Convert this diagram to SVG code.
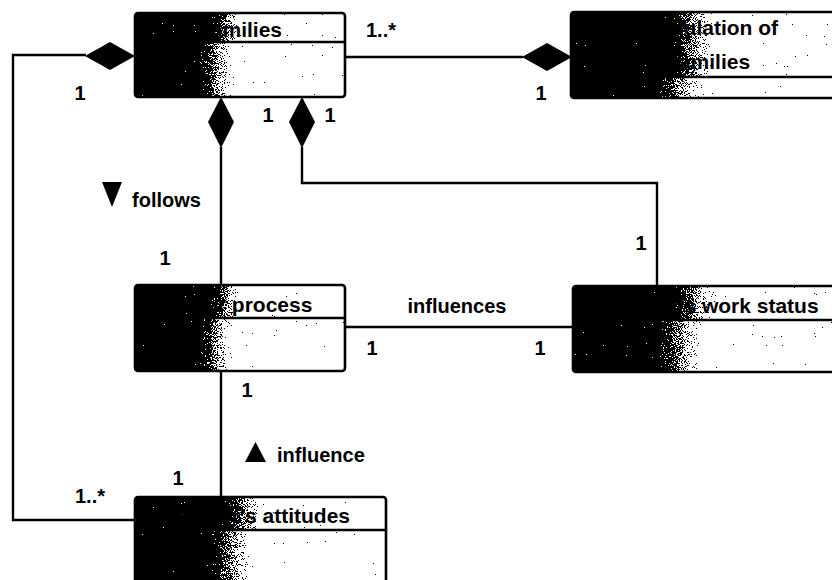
<svg xmlns="http://www.w3.org/2000/svg" width="832" height="580" viewBox="0 0 832 580">
  <style>
    .frame { fill: none; stroke: #000; stroke-width: 2.6; }
    .div { stroke: #000; stroke-width: 2.6; }
    .conn { fill: none; stroke: #000; stroke-width: 2.4; }
    .dia { fill: #000; }
    .cls { font: bold 21px "Liberation Sans", Arial, sans-serif; text-anchor: middle; fill: #000; }
    .lbl { font: bold 20px "Liberation Sans", Arial, sans-serif; fill: #000; }
    .mid { text-anchor: middle; }
    .head { fill: url(#shadeHead); filter: url(#grain); }
    .body { fill: url(#shadeBody); filter: url(#grain); }
  </style>
  <defs>
    <!-- dark-to-white class shading -->
    <linearGradient id="shadeHead" x1="0" y1="0" x2="1" y2="0">
      <stop offset="0" stop-color="#000"/>
      <stop offset="0.35" stop-color="#000"/>
      <stop offset="0.52" stop-color="#fff"/>
      <stop offset="1" stop-color="#fff"/>
    </linearGradient>
    <linearGradient id="shadeBody" x1="0" y1="0" x2="1" y2="0">
      <stop offset="0" stop-color="#000"/>
      <stop offset="0.29" stop-color="#000"/>
      <stop offset="0.48" stop-color="#fff"/>
      <stop offset="1" stop-color="#fff"/>
    </linearGradient>
    <!-- dithered stipple for the shading -->
    <filter id="grain" x="0" y="0" width="1" height="1" color-interpolation-filters="sRGB">
      <feTurbulence type="fractalNoise" baseFrequency="1.1" numOctaves="2" seed="7" result="noise"/>
      <feColorMatrix in="noise" type="matrix" values="1 0 0 0 0  1 0 0 0 0  1 0 0 0 0  0 0 0 0 1" result="gray"/>
      <feComposite in="SourceGraphic" in2="gray" operator="arithmetic" k1="0" k2="1" k3="1.6" k4="-0.8" result="mix"/>
      <feComponentTransfer in="mix">
        <feFuncR type="discrete" tableValues="0 1"/>
        <feFuncG type="discrete" tableValues="0 1"/>
        <feFuncB type="discrete" tableValues="0 1"/>
      </feComponentTransfer>
    </filter>
  </defs>

  <rect width="832" height="580" fill="#fff"/>

  <!-- connectors -->
  <g id="connectors">
    <polyline class="conn" points="86,55 13,55 13,520 135,520"/>
    <line class="conn" x1="345" y1="57" x2="523" y2="57"/>
    <line class="conn" x1="221" y1="147" x2="221" y2="285"/>
    <polyline class="conn" points="302,147 302,183 657,183 657,286"/>
    <line class="conn" x1="345" y1="327" x2="573" y2="327"/>
    <line class="conn" x1="221" y1="371" x2="221" y2="497"/>
    <polygon class="dia" points="85,56 110,42 135,56 110,70"/>
    <polygon class="dia" points="522,57 547,43 572,57 547,71"/>
    <polygon class="dia" points="221,97 234,122 221,148 208,122"/>
    <polygon class="dia" points="302,97 315,122 302,148 289,122"/>
  </g>

  <!-- multiplicities and association labels -->
  <g id="labels">
    <text class="lbl mid" x="80" y="100">1</text>
    <text class="lbl" x="366" y="37">1..*</text>
    <text class="lbl mid" x="541" y="100">1</text>
    <text class="lbl mid" x="268" y="122">1</text>
    <text class="lbl mid" x="330" y="122">1</text>
    <polygon class="dia" points="102,182 122,182 112,207"/>
    <text class="lbl" x="132" y="207">follows</text>
    <text class="lbl mid" x="165" y="265">1</text>
    <text class="lbl mid" x="641" y="250">1</text>
    <text class="lbl mid" x="457" y="313">influences</text>
    <text class="lbl mid" x="372" y="355">1</text>
    <text class="lbl mid" x="540" y="355">1</text>
    <text class="lbl mid" x="247" y="397">1</text>
    <polygon class="dia" points="245,462 266,462 255.5,442"/>
    <text class="lbl" x="277" y="462">influence</text>
    <text class="lbl mid" x="178" y="485">1</text>
    <text class="lbl" x="75" y="503">1..*</text>
  </g>

  <!-- classes -->
  <g id="families">
    <rect class="head" x="135" y="13" width="210" height="29"/>
    <rect class="body" x="135" y="42" width="210" height="55"/>
    <text class="cls" x="240" y="37">Families</text>
    <rect class="frame" x="135" y="13" width="210" height="84" rx="3"/>
    <line class="div" x1="135" y1="42" x2="345" y2="42"/>
  </g>

  <g id="population">
    <rect class="head" x="571" y="12" width="280" height="65"/>
    <rect class="body" x="571" y="77" width="280" height="21"/>
    <text class="cls" x="711" y="35">Population of</text>
    <text class="cls" x="711" y="69">families</text>
    <rect class="frame" x="571" y="12" width="280" height="86" rx="3"/>
    <line class="div" x1="571" y1="77" x2="851" y2="77"/>
  </g>

  <g id="process">
    <rect class="head" x="135" y="285" width="210" height="33"/>
    <rect class="body" x="135" y="318" width="210" height="53"/>
    <text class="cls" x="240" y="312">Labor process</text>
    <rect class="frame" x="135" y="285" width="210" height="86" rx="3"/>
    <line class="div" x1="135" y1="318" x2="345" y2="318"/>
  </g>

  <g id="work-status">
    <rect class="head" x="573" y="286" width="278" height="34"/>
    <rect class="body" x="573" y="320" width="278" height="52"/>
    <text class="cls" x="714" y="313">Mother's work status</text>
    <rect class="frame" x="573" y="286" width="278" height="86" rx="3"/>
    <line class="div" x1="573" y1="320" x2="851" y2="320"/>
  </g>

  <g id="attitudes">
    <rect class="head" x="135" y="497" width="251" height="33"/>
    <rect class="body" x="135" y="530" width="251" height="70"/>
    <text class="cls" x="260" y="523">Mother's attitudes</text>
    <rect class="frame" x="135" y="497" width="251" height="103" rx="3"/>
    <line class="div" x1="135" y1="530" x2="386" y2="530"/>
  </g>
</svg>
